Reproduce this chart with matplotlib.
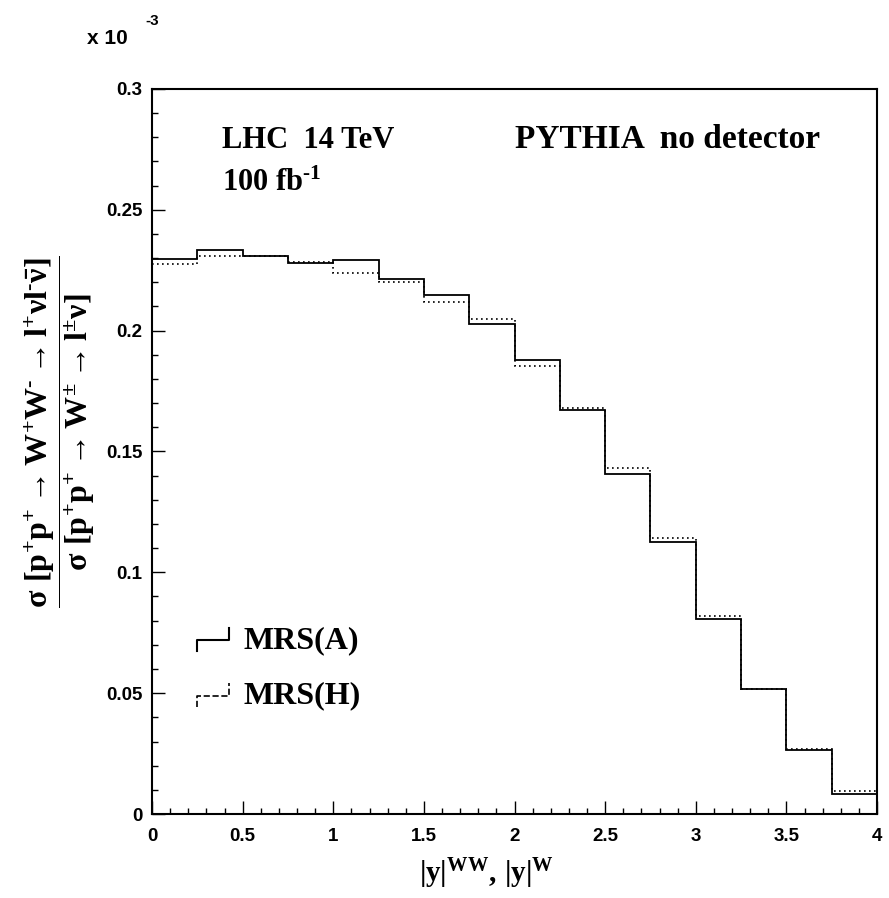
import numpy as np
import matplotlib
matplotlib.use('Agg')
import matplotlib.pyplot as plt
from matplotlib.legend_handler import HandlerBase
from matplotlib.lines import Line2D
from matplotlib.ticker import MultipleLocator
from matplotlib.font_manager import FontProperties

# bin edges in |y| and the two histograms (units of 1e-3)
edges = np.linspace(0, 4, 17)
mrs_a = [0.2298, 0.2332, 0.2310, 0.2281, 0.2291, 0.2215, 0.2146, 0.2028,
         0.1880, 0.1670, 0.1407, 0.1125, 0.0808, 0.0517, 0.0265, 0.0084]
mrs_h = [0.2277, 0.2310, 0.2307, 0.2284, 0.2239, 0.2201, 0.2119, 0.2048,
         0.1852, 0.1678, 0.1430, 0.1140, 0.0819, 0.0518, 0.0267, 0.0095]
labels = ['MRS(A)', 'MRS(H)']
xticks = [0, 0.5, 1, 1.5, 2, 2.5, 3, 3.5, 4]
xticklabels = ['0', '0.5', '1', '1.5', '2', '2.5', '3', '3.5', '4']
yticks = [0, 0.05, 0.1, 0.15, 0.2, 0.25, 0.3]
yticklabels = ['0', '0.05', '0.1', '0.15', '0.2', '0.25', '0.3']

plt.rcParams['mathtext.fontset'] = 'custom'
plt.rcParams['mathtext.rm'] = 'Liberation Serif:bold'
plt.rcParams['mathtext.bf'] = 'Liberation Serif:bold'
plt.rcParams['mathtext.it'] = 'Liberation Serif:bold'
plt.rcParams['mathtext.default'] = 'rm'

sans = dict(family='Liberation Sans', weight='bold')
serif = dict(family='Liberation Serif', weight='bold')


class StepHandler(HandlerBase):
    # little step glyph like the ROOT legend
    def create_artists(self, legend, orig_handle, xdescent, ydescent,
                       width, height, fontsize, trans):
        x = [0, 0, width, width]
        y = [-0.12 * height, 0.26 * height, 0.26 * height, 0.70 * height]
        ln = Line2D(x, y, color=orig_handle.get_color(),
                    lw=orig_handle.get_linewidth(),
                    linestyle=orig_handle.get_linestyle(), transform=trans)
        return [ln]


fig = plt.figure(figsize=(8.89, 8.98), dpi=100)
ax = fig.add_axes([0.171, 0.0935, 0.8155, 0.8075])

ax.stairs(mrs_a, edges, baseline=None, color='black', lw=1.3)
ax.stairs(mrs_h, edges, baseline=None, color='black', lw=1.2,
          linestyle=(0, (1, 2)))

ax.set_xlim(0, 4)
ax.set_ylim(0, 0.3)
ax.set_xticks(xticks)
ax.set_xticklabels(xticklabels)
ax.set_yticks(yticks)
ax.set_yticklabels(yticklabels)
ax.xaxis.set_minor_locator(MultipleLocator(0.1))
ax.yaxis.set_minor_locator(MultipleLocator(0.01))
ax.tick_params(which='both', direction='in', top=False, right=False, width=1)
ax.tick_params(which='major', length=9.5)
ax.tick_params(which='minor', length=4.5)
ax.tick_params(axis='y', pad=7)
ax.tick_params(axis='x', pad=10)
for lab in ax.get_xticklabels() + ax.get_yticklabels():
    lab.set_fontproperties(FontProperties(size=13.5, **sans))
for sp in ax.spines.values():
    sp.set_linewidth(1.5)

ax.set_xlabel(r'$|y|^{WW},\,|y|^{W}$', fontsize=21)
ax.xaxis.set_label_coords(0.462, -0.058)

fig.text(0.067, 0.519,
         r'$\dfrac{\sigma\ [p^{+}p^{+} \rightarrow W^{+}W^{\text{-}} \rightarrow l^{+}\nu l^{\text{-}}\bar{\nu}]}'
         r'{\sigma\ [p^{+}p^{+} \rightarrow W^{\pm} \rightarrow l^{\pm}\nu]}$',
         rotation=90, ha='center', va='center', fontsize=23)

fig.text(0.098, 0.951, 'x 10', fontsize=15, **sans)
fig.text(0.163, 0.972, '-3', fontsize=11, **sans)

ax.text(0.097, 0.918, 'LHC  14 TeV', transform=ax.transAxes, fontsize=22, **serif)
ax.text(0.50, 0.918, 'PYTHIA  no detector', transform=ax.transAxes, fontsize=24, **serif)
ax.text(0.097, 0.859, r'100 fb$^{\text{-}1}$', transform=ax.transAxes, fontsize=22, **serif)

h1 = Line2D([], [], color='black', lw=1.5)
h2 = Line2D([], [], color='black', lw=1.2, linestyle=(0, (1, 1.6)))
leg = ax.legend([h1, h2], labels, loc='upper left', bbox_to_anchor=(0.062, 0.264),
                frameon=False, handler_map={Line2D: StepHandler()},
                handlelength=1.0, handleheight=1.0, handletextpad=0.45,
                labelspacing=0.72, borderpad=0, borderaxespad=0,
                prop=FontProperties(size=23, **serif))

fig.savefig('out.png', dpi=100)
